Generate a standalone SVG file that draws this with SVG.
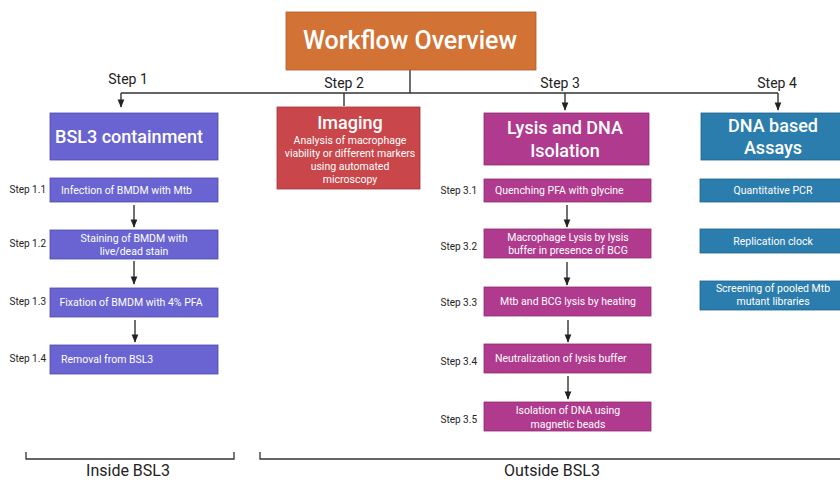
<svg xmlns="http://www.w3.org/2000/svg" width="840" height="480" viewBox="0 0 840 480">
<defs>
<style>
text{font-family:Roboto,"Liberation Sans",sans-serif;fill:#fff;text-anchor:middle}
.step{fill:#222;font-size:14px}
.sub{fill:#222;font-size:10px;text-anchor:end}
.head{font-size:18px;font-weight:500}
.body{font-size:10.5px}
.line{stroke:#333;stroke-width:1.4;fill:none}
.br{stroke:#333;stroke-width:1.3;fill:none}
.purple{fill:#6964D1;stroke:#4d49a8;stroke-width:0.8}
.red{fill:#C9464A;stroke:#a83438;stroke-width:0.8}
.mag{fill:#B03A8E;stroke:#8d2b71;stroke-width:0.8}
.blue{fill:#2B7DAD;stroke:#1f6189;stroke-width:0.8}
.bracelabel{fill:#222;font-size:16px}
</style>
<marker id="ah" viewBox="0 0 10 10" refX="9" refY="5" markerWidth="6" markerHeight="6" orient="auto"><path d="M0,1 L10,5 L0,9 z" fill="#222"/></marker>
</defs>
<rect width="840" height="480" fill="#fff"/>

<g id="connectors">
<path class="line" d="M410,70 V93 M121,93 H778"/>
<path class="line" d="M121,93 V107" marker-end="url(#ah)"/>
<path class="line" d="M344,93 V106"/>
<path class="line" d="M565,93 V110" marker-end="url(#ah)"/>
<path class="line" d="M778,93 V110" marker-end="url(#ah)"/>
<path class="line" d="M134,205 V227" marker-end="url(#ah)"/>
<path class="line" d="M134,261 V284" marker-end="url(#ah)"/>
<path class="line" d="M135,320 V342" marker-end="url(#ah)"/>
<path class="line" d="M567,205 V227" marker-end="url(#ah)"/>
<path class="line" d="M567,262 V285" marker-end="url(#ah)"/>
<path class="line" d="M568,320 V342" marker-end="url(#ah)"/>
<path class="line" d="M568,376 V399" marker-end="url(#ah)"/>
</g>

<g id="title"><rect x="286" y="12" width="250" height="58" fill="#D37235" stroke="#b05a28" stroke-width="0.8"/><text x="410" y="49" font-size="25" font-weight="500">Workflow Overview</text></g>

<text class="step" x="128" y="84">Step 1</text>
<text class="step" x="344" y="88">Step 2</text>
<text class="step" x="560" y="88">Step 3</text>
<text class="step" x="777" y="88">Step 4</text>

<g id="bsl3"><rect class="purple" x="50" y="113" width="168" height="47"/><text class="head" x="129" y="143" font-size="17">BSL3 containment</text></g>
<g id="imaging"><rect class="red" x="277" y="107" width="143" height="82"/><text class="head" x="350" y="129">Imaging</text>
<text class="body" x="350" y="144">Analysis of macrophage</text><text class="body" x="350" y="157">viability or different markers</text><text class="body" x="350" y="170">using automated</text><text class="body" x="350" y="183">microscopy</text></g>
<g id="lysis"><rect class="mag" x="484" y="113" width="165" height="52"/><text class="head" x="565" y="134">Lysis and DNA</text><text class="head" x="565" y="157">Isolation</text></g>
<g id="dna"><rect class="blue" x="701" y="113" width="142" height="47"/><text class="head" x="773" y="132">DNA based</text><text class="head" x="773" y="154">Assays</text></g>

<g id="s11"><rect class="purple" x="50" y="178" width="168" height="24"/><text class="body" x="61" y="194" style="text-anchor:start">Infection of BMDM with Mtb</text><text class="sub" x="46" y="193">Step 1.1</text></g>
<g id="s12"><rect class="purple" x="50" y="230" width="168" height="29"/><text class="body" x="134" y="242">Staining of BMDM with</text><text class="body" x="134" y="255">live/dead stain</text><text class="sub" x="46" y="247">Step 1.2</text></g>
<g id="s13"><rect class="purple" x="50" y="288" width="168" height="29"/><text class="body" x="131" y="306">Fixation of BMDM with 4% PFA</text><text class="sub" x="46" y="305">Step 1.3</text></g>
<g id="s14"><rect class="purple" x="50" y="345" width="168" height="29"/><text class="body" x="61" y="363" style="text-anchor:start">Removal from BSL3</text><text class="sub" x="46" y="362">Step 1.4</text></g>

<g id="s31"><rect class="mag" x="484" y="179" width="167" height="23"/><text class="body" x="495" y="194" style="text-anchor:start">Quenching PFA with glycine</text><text class="sub" x="477" y="194">Step 3.1</text></g>
<g id="s32"><rect class="mag" x="484" y="229" width="167" height="29"/><text class="body" x="568" y="241">Macrophage Lysis by lysis</text><text class="body" x="568" y="254">buffer in presence of BCG</text><text class="sub" x="477" y="250">Step 3.2</text></g>
<g id="s33"><rect class="mag" x="484" y="287" width="167" height="29"/><text class="body" x="568" y="305">Mtb and BCG lysis by heating</text><text class="sub" x="477" y="306">Step 3.3</text></g>
<g id="s34"><rect class="mag" x="484" y="344" width="167" height="29"/><text class="body" x="495" y="362" style="text-anchor:start">Neutralization of lysis buffer</text><text class="sub" x="477" y="365">Step 3.4</text></g>
<g id="s35"><rect class="mag" x="484" y="402" width="167" height="29"/><text class="body" x="568" y="414">Isolation of DNA using</text><text class="body" x="568" y="428">magnetic beads</text><text class="sub" x="477" y="423">Step 3.5</text></g>

<g id="qpcr"><rect class="blue" x="700" y="179" width="143" height="23"/><text class="body" x="773" y="194">Quantitative PCR</text></g>
<g id="repl"><rect class="blue" x="700" y="229" width="143" height="24"/><text class="body" x="773" y="245">Replication clock</text></g>
<g id="screen"><rect class="blue" x="700" y="281" width="143" height="29"/><text class="body" x="773" y="292">Screening of pooled Mtb</text><text class="body" x="773" y="305">mutant libraries</text></g>

<g id="inside"><path class="br" d="M26,452 V459 H234 V452"/><text class="bracelabel" x="128" y="476">Inside BSL3</text></g>
<g id="outside"><path class="br" d="M260,452 V459 H840"/><text class="bracelabel" x="552" y="476">Outside BSL3</text></g>
</svg>
